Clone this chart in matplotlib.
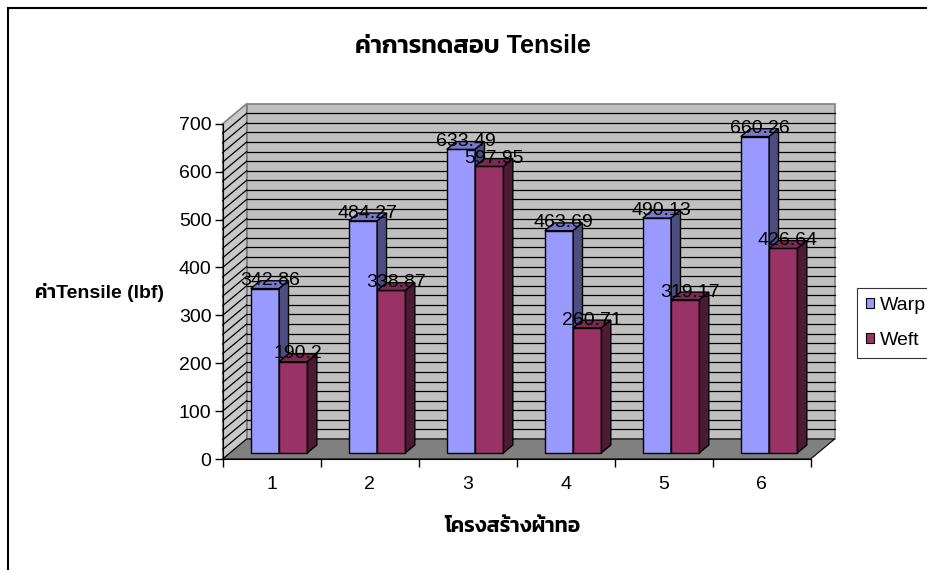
import matplotlib
matplotlib.use('Agg')
import matplotlib.pyplot as plt
from matplotlib.patches import Polygon, Patch, Rectangle

# tensile test results per fabric structure
structures = ['1', '2', '3', '4', '5', '6']
warp = [342.86, 484.27, 633.49, 463.69, 490.13, 660.26]
weft = [190.2, 338.87, 597.95, 260.71, 319.17, 426.64]
series_names = ['Warp', 'Weft']
yticks = [0, 100, 200, 300, 400, 500, 600, 700]

FONT = ['Liberation Sans', 'Kanit', 'Prompt', 'Athiti', 'Noto Sans Thai', 'DejaVu Sans']
plt.rcParams['font.family'] = FONT

# fake 3-D look: depth offset of the back wall in data units
DX, DY = 0.245, 41.8
D0, D1 = 0.31, 0.70  # bar depth range (fraction of full depth)
BW = 0.289           # bar width in category units
YMAX = 700

faces = {
    'Warp': ('#9999ff', '#7777cc', '#4d4d80'),
    'Weft': ('#993366', '#7a2952', '#4d1a33'),
}

fig = plt.figure(figsize=(9.28, 5.70), dpi=100)
ax = fig.add_axes([222.7 / 928, 111 / 570, 612 / 928, 355.3 / 570])
ax.set_xlim(0.5, len(structures) + 0.5 + DX)
ax.set_ylim(0, YMAX + DY)
ax.patch.set_visible(False)

n = len(structures)
x_lo, x_hi = 0.5, n + 0.5

# walls and floor
back = Polygon([(x_lo + DX, DY), (x_hi + DX, DY), (x_hi + DX, YMAX + DY), (x_lo + DX, YMAX + DY)],
               closed=True, fc='#c0c0c0', ec='#808080', lw=1.2, zorder=0.5, clip_on=False)
side = Polygon([(x_lo, 0), (x_lo + DX, DY), (x_lo + DX, YMAX + DY), (x_lo, YMAX)],
               closed=True, fc='#c8c8c8', ec='#808080', lw=1.2, zorder=0.5, clip_on=False)
floor = Polygon([(x_lo, 0), (x_hi, 0), (x_hi + DX, DY), (x_lo + DX, DY)],
                closed=True, fc='#808080', ec='black', lw=0.8, zorder=0.6, clip_on=False)
for p in (back, side, floor):
    ax.add_patch(p)

# gridlines on back wall and side wall
for v in range(20, YMAX, 20):
    ax.plot([x_lo + DX, x_hi + DX], [v + DY, v + DY], color='black', lw=0.9, zorder=0.8,
            clip_on=False)
    ax.plot([x_lo, x_lo + DX], [v, v + DY], color='black', lw=0.9, zorder=0.8, clip_on=False)

# bars: front face via ax.bar, top and side faces as polygons
z = 2
for i in range(n):
    c = i + 1
    for s, (name, vals) in enumerate(zip(series_names, [warp, weft])):
        front, top, sidec = faces[name]
        v = vals[i]
        x0 = c - BW + s * BW + D0 * DX
        y0 = D0 * DY
        ax.bar(x0, v, width=BW, bottom=y0, align='edge', color=front, edgecolor='black',
               linewidth=1, zorder=z, clip_on=False)
        ddx, ddy = (D1 - D0) * DX, (D1 - D0) * DY
        ax.add_patch(Polygon([(x0, y0 + v), (x0 + BW, y0 + v), (x0 + BW + ddx, y0 + v + ddy),
                              (x0 + ddx, y0 + v + ddy)], closed=True, fc=top, ec='black',
                             lw=1, zorder=z + 0.1, clip_on=False))
        ax.add_patch(Polygon([(x0 + BW, y0), (x0 + BW + ddx, y0 + ddy),
                              (x0 + BW + ddx, y0 + v + ddy), (x0 + BW, y0 + v)], closed=True,
                             fc=sidec, ec='black', lw=1, zorder=z + 0.2, clip_on=False))
        z += 1

# value labels on top of each bar
for i in range(n):
    c = i + 1
    for s, vals in enumerate([warp, weft]):
        v = vals[i]
        xc = c - BW + s * BW + BW / 2 + (D0 + D1) / 2 * DX
        ax.text(xc, v + D1 * DY, f'{v:g}', ha='center', va='center', fontsize=14,
                zorder=50, clip_on=False)

# axes
for sp in ('top', 'right'):
    ax.spines[sp].set_visible(False)
ax.spines['left'].set_bounds(0, YMAX)
ax.spines['bottom'].set_bounds(x_lo, x_hi)
ax.spines['left'].set_zorder(1)
ax.spines['bottom'].set_zorder(1)
ax.set_yticks(yticks)
ax.set_yticklabels([str(t) for t in yticks])
ax.tick_params(axis='y', direction='out', length=6, width=1, labelsize=14, pad=2)
ax.set_xticks(range(1, n + 1))
ax.set_xticklabels(structures)
ax.set_xticks([k + 0.5 for k in range(0, n + 1)], minor=True)
ax.tick_params(axis='x', which='major', length=0, labelsize=14, pad=12)
ax.tick_params(axis='x', which='minor', direction='out', length=6, width=1)

# titles (semibold picks Liberation Sans Bold for Latin and a lighter Thai bold)
fig.text(473 / 928, 1 - 46 / 570, 'ค่าการทดสอบ Tensile', ha='center', va='center',
         fontsize=18, fontweight='semibold')
fig.text(100 / 928, 1 - 292 / 570, 'ค่าTensile (lbf)', ha='center', va='center',
         fontsize=14, fontweight='semibold')
fig.text(512 / 928, 1 - 527 / 570, 'โครงสร้างผ้าทอ', ha='center', va='center',
         fontsize=15, fontweight='semibold')

# legend
handles = [Patch(facecolor=faces[nm][0], edgecolor='black', linewidth=0.8) for nm in series_names]
leg = fig.legend(handles, series_names, loc='upper left',
                 bbox_to_anchor=(857 / 928, 1 - 288 / 570), bbox_transform=fig.transFigure,
                 borderaxespad=0, fontsize=14, handlelength=0.42, handleheight=0.42,
                 handletextpad=0.3, labelspacing=0.95, borderpad=0.45, fancybox=False)
leg.get_frame().set_edgecolor('black')
leg.get_frame().set_linewidth(0.8)

# chart area border
fig.add_artist(Rectangle((7.5 / 928, -0.1), 1.2, 1.1 - 8 / 570, transform=fig.transFigure,
                         fill=False, ec='black', lw=1.5))

fig.savefig('out.png', dpi=100)
